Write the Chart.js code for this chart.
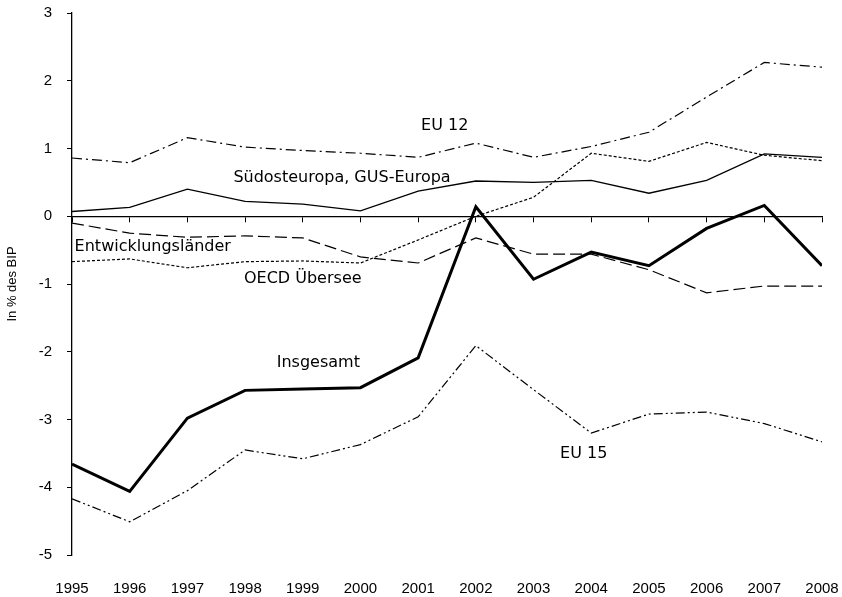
<!DOCTYPE html>
<html>
<head>
<meta charset="utf-8">
<script src="https://cdn.jsdelivr.net/npm/chart.js@4.4.1/dist/chart.umd.min.js"></script>
<style>
  html, body { margin: 0; padding: 0; background: #fff; }
  #wrap { width: 842px; height: 597px; }
</style>
</head>
<body>
<div id="wrap"><canvas id="chart" width="842" height="597"></canvas></div>
<script>
// values (in % des BIP)
const years = [1995, 1996, 1997, 1998, 1999, 2000, 2001, 2002, 2003, 2004, 2005, 2006, 2007, 2008];
const yTicks = [-5, -4, -3, -2, -1, 0, 1, 2, 3];

const eu12 = [0.86, 0.79, 1.16, 1.02, 0.97, 0.93, 0.87, 1.08, 0.87, 1.03, 1.24, 1.76, 2.27, 2.20];
const suedost = [0.07, 0.13, 0.40, 0.22, 0.18, 0.08, 0.37, 0.52, 0.50, 0.53, 0.34, 0.53, 0.92, 0.87];
const oecdUebersee = [-0.67, -0.63, -0.76, -0.67, -0.66, -0.69, -0.35, 0.00, 0.28, 0.93, 0.81, 1.09, 0.90, 0.82];
const entwicklung = [-0.10, -0.25, -0.31, -0.29, -0.32, -0.60, -0.69, -0.32, -0.56, -0.56, -0.79, -1.13, -1.03, -1.03];
const insgesamt = [-3.66, -4.06, -2.98, -2.57, -2.55, -2.53, -2.09, 0.14, -0.93, -0.53, -0.73, -0.18, 0.16, -0.73];
const eu15 = [-4.17, -4.51, -4.05, -3.45, -3.58, -3.37, -2.96, -1.91, -2.56, -3.20, -2.92, -2.89, -3.06, -3.33];

// inline series labels, placed in data units
const seriesLabels = [
  { text: 'EU 12', x: 2001.46, y: 1.34 },
  { text: 'Südosteuropa, GUS-Europa', x: 1999.68, y: 0.56 },
  { text: 'Entwicklungsländer', x: 1996.4, y: -0.45 },
  { text: 'OECD Übersee', x: 1999.0, y: -0.92 },
  { text: 'Insgesamt', x: 1999.27, y: -2.17 },
  { text: 'EU 15', x: 2003.87, y: -3.5 }
];

const toPoints = vals => vals.map((v, i) => ({ x: years[i], y: v }));

function lineSet(label, vals, width, dash) {
  return {
    label,
    data: toPoints(vals),
    borderColor: '#000',
    borderWidth: width,
    borderDash: dash,
    pointRadius: 0,
    fill: false,
    tension: 0
  };
}

// keep the chart area where the reference has it
function noPad(s) {
  s.paddingLeft = 0;
  s.paddingRight = 0;
  s.paddingTop = 0;
  s.paddingBottom = 0;
}

const labelPlugin = {
  id: 'seriesLabels',
  afterDatasetsDraw(chart) {
    const { ctx, scales } = chart;
    ctx.save();
    ctx.fillStyle = '#000';
    ctx.font = '16px "DejaVu Sans"';
    ctx.textAlign = 'center';
    ctx.textBaseline = 'middle';
    seriesLabels.forEach(l => {
      ctx.fillText(l.text, scales.x.getPixelForValue(l.x), scales.y.getPixelForValue(l.y));
    });
    ctx.restore();
  }
};

new Chart(document.getElementById('chart'), {
  type: 'line',
  data: {
    datasets: [
      lineSet('EU 12', eu12, 1.2, [10, 4, 2, 4]),
      lineSet('Südosteuropa, GUS-Europa', suedost, 1.3, []),
      lineSet('OECD Übersee', oecdUebersee, 1.2, [3, 2]),
      lineSet('Entwicklungsländer', entwicklung, 1.2, [12, 5]),
      lineSet('Insgesamt', insgesamt, 3, []),
      lineSet('EU 15', eu15, 1.2, [9, 3, 2, 3, 2, 3])
    ]
  },
  options: {
    responsive: false,
    animation: false,
    layout: { padding: { top: 13, right: 20, left: 0, bottom: 0 } },
    plugins: { legend: { display: false }, tooltip: { enabled: false } },
    scales: {
      x: {
        type: 'linear',
        min: 1995, max: 2008,
        position: { y: 0 },
        grid: { drawOnChartArea: false, drawTicks: true, tickLength: 5, color: '#000', lineWidth: 1 },
        border: { display: true, color: '#000', width: 1.3 },
        ticks: { display: false, stepSize: 1 },
        afterFit: noPad
      },
      xb: {
        type: 'linear',
        min: 1995, max: 2008,
        position: 'bottom',
        grid: { display: false, drawTicks: false },
        border: { display: false },
        ticks: {
          stepSize: 1,
          padding: 25,
          color: '#000',
          maxRotation: 0,
          autoSkip: false,
          font: { family: 'Liberation Sans', size: 15 },
          callback: v => String(v)
        },
        afterFit(s) { noPad(s); s.height = 42; }
      },
      y: {
        min: -5, max: 3,
        grid: { drawOnChartArea: false, drawTicks: true, tickLength: 5, color: '#000', lineWidth: 1 },
        border: { display: true, color: '#000', width: 1.3 },
        afterBuildTicks(s) { s.ticks = yTicks.map(v => ({ value: v })); },
        ticks: {
          padding: 15,
          color: '#000',
          font: { family: 'Liberation Sans', size: 15 }
        },
        title: {
          display: true,
          text: 'In % des BIP',
          color: '#000',
          padding: { top: 5, bottom: 0 },
          font: { family: 'Liberation Sans', size: 13 }
        },
        afterFit(s) { noPad(s); s.width = 72; }
      }
    }
  },
  plugins: [labelPlugin]
});
</script>
</body>
</html>
